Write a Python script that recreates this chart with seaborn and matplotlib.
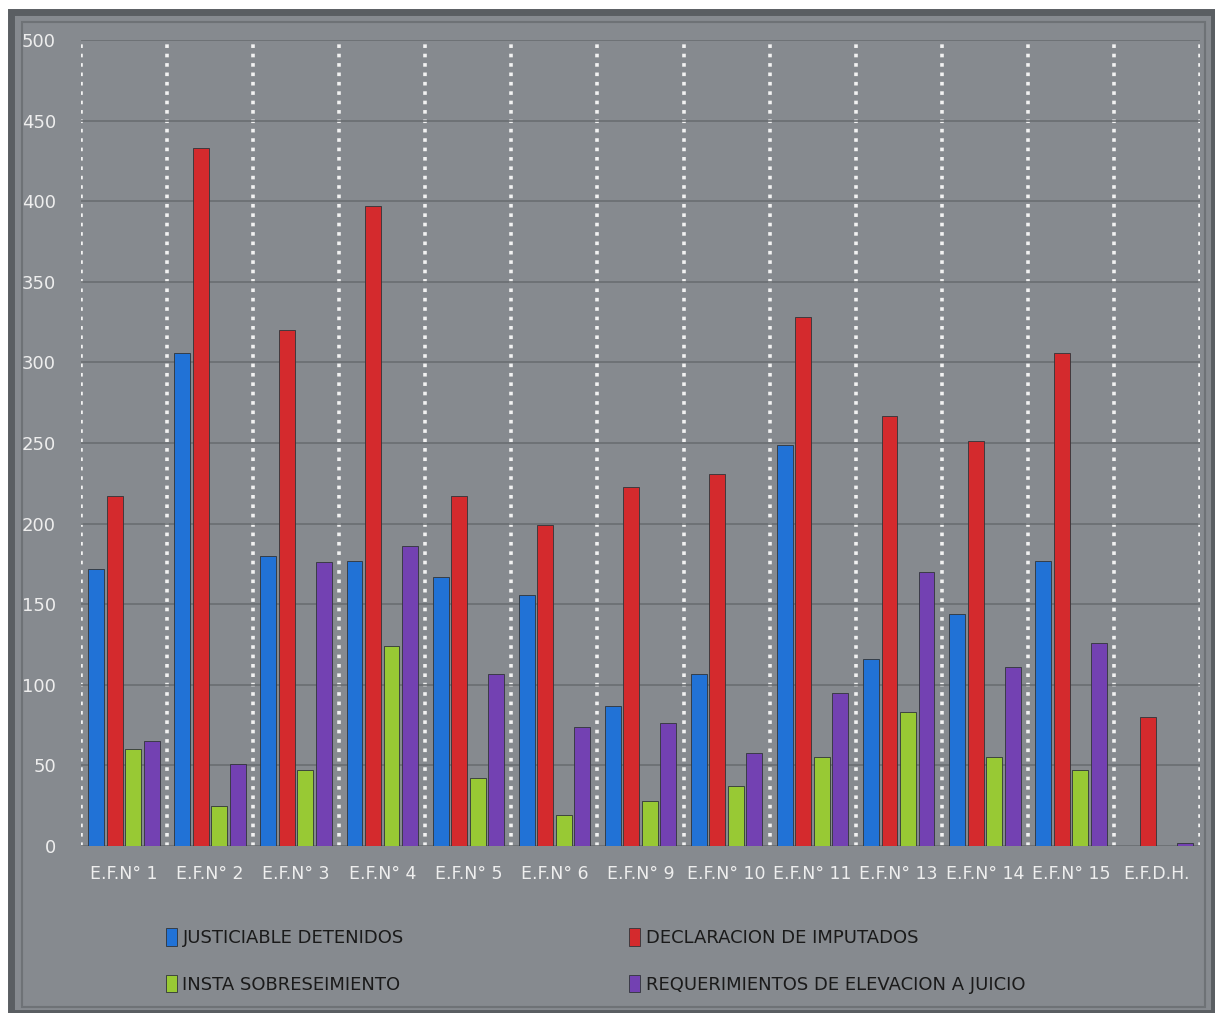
import matplotlib.pyplot as plt
from matplotlib.patches import Rectangle
import numpy as np
import pandas as pd
import seaborn as sns

categories = ['E.F.N° 1', 'E.F.N° 2', 'E.F.N° 3', 'E.F.N° 4', 'E.F.N° 5', 'E.F.N° 6',
              'E.F.N° 9', 'E.F.N° 10', 'E.F.N° 11', 'E.F.N° 13', 'E.F.N° 14',
              'E.F.N° 15', 'E.F.D.H.']
justiciable = [172, 306, 180, 177, 167, 156, 87, 107, 249, 116, 144, 177, 0]
declaracion = [217, 433, 320, 397, 217, 199, 223, 231, 328, 267, 251, 306, 80]
insta = [60, 25, 47, 124, 42, 19, 28, 37, 55, 83, 55, 47, 0]
requerimientos = [65, 51, 176, 186, 107, 74, 76, 58, 95, 170, 111, 126, 2]

series = ['JUSTICIABLE DETENIDOS', 'DECLARACION DE IMPUTADOS',
          'INSTA SOBRESEIMIENTO', 'REQUERIMIENTOS DE ELEVACION A JUICIO']
colors = ['#2172d6', '#d42a2d', '#98c934', '#7341b2']

df = pd.DataFrame({
    'cat': categories * 4,
    'serie': np.repeat(series, len(categories)),
    'valor': justiciable + declaracion + insta + requerimientos,
})

sns.set_theme(style='white')
plt.rcParams['font.family'] = ['DejaVu Sans']

bg = '#868a8f'
fig = plt.figure(figsize=(12.15, 10.13), dpi=100)
fig.patch.set_facecolor('white')
# frame of the chart area (behind the axes)
fig.add_artist(Rectangle((0.009, 0.0), 0.99, 0.988, transform=fig.transFigure,
                         facecolor=bg, edgecolor='#5a5e62', linewidth=5, zorder=-2))
fig.add_artist(Rectangle((0.018, 0.006), 0.974, 0.972, transform=fig.transFigure,
                         facecolor='none', edgecolor='#6e7276', linewidth=1.5, zorder=-1))

ax = fig.add_axes([81 / 1215, 1 - 846 / 1013, (1200 - 81) / 1215, (846 - 40) / 1013])
ax.set_facecolor(bg)

sns.barplot(data=df, x='cat', y='valor', hue='serie', palette=colors,
            saturation=1, width=0.86, gap=0.14, ax=ax, legend=True,
            edgecolor='#303438', linewidth=0.6)

ax.set_ylim(0, 500)
ax.set_xlim(-0.5, len(categories) - 0.5)
ax.set_yticks(np.arange(0, 501, 50))
ax.set_xlabel('')
ax.set_ylabel('')

ax.set_xticks(np.arange(-0.5, len(categories)), minor=True)
ax.grid(axis='y', which='major', color='#6a6e72', linewidth=1.2)
ax.grid(axis='x', which='minor', color='#f2f2f2', linewidth=2.6,
        linestyle=(0, (1, 1.6)))
ax.grid(axis='x', which='major', visible=False)
ax.set_axisbelow(True)
for s in ax.spines.values():
    s.set_visible(False)

ax.tick_params(axis='both', which='both', length=0, colors='#eeeeee')
ax.tick_params(axis='y', labelsize=13, pad=18)
ax.tick_params(axis='x', labelsize=12.5, pad=14)
for lab in ax.get_yticklabels():
    lab.set_horizontalalignment('right')

handles, labels = ax.get_legend_handles_labels()
ax.get_legend().remove()
order = [0, 2, 1, 3]
fig.legend([handles[i] for i in order], [labels[i] for i in order],
           loc='upper left', bbox_to_anchor=(150 / 1215, 1 - 912 / 1013),
           ncol=2, frameon=False, fontsize=13, labelcolor='#1a1a1a',
           handlelength=0.6, handleheight=1.1, handletextpad=0.3,
           labelspacing=1.55, columnspacing=12.5)

fig.savefig('out.png', dpi=100, facecolor=fig.get_facecolor())
